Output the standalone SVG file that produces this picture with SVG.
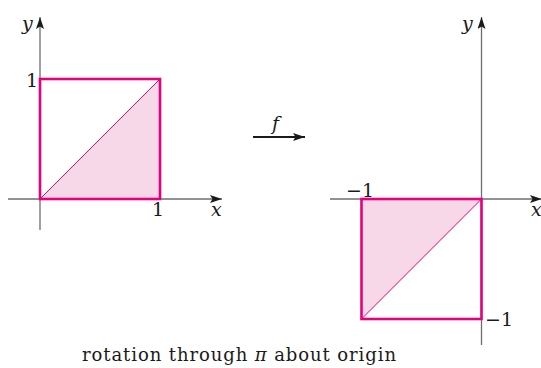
<svg xmlns="http://www.w3.org/2000/svg" width="541" height="368" viewBox="0 0 541 368">
<defs>
<style>
.axis{stroke:#6e6e6e;stroke-width:1.3;fill:none}
.sq{fill:none;stroke:#e6007e;stroke-width:2.6}
.diag{stroke:#e6007e;stroke-width:1}
.shade{fill:#f7d8e8;stroke:none}
text{font-family:"DejaVu Serif","Liberation Serif",serif;font-size:19px;fill:#1a1a1a}
.it{font-style:italic}
.cap{font-size:18px}
</style>
<marker id="ah" viewBox="0 0 12 8" refX="12" refY="4" markerWidth="12" markerHeight="8" markerUnits="userSpaceOnUse" orient="auto">
<path d="M0,0 L12,4 L0,8 L2.5,4 Z" fill="#1a1a1a"/>
</marker>
</defs>

<g id="left-plot">
<polygon class="shade" points="40,199 160,199 160,79"/>
<line class="diag" x1="40" y1="199" x2="160" y2="79"/>
<line class="axis" x1="8" y1="199" x2="222" y2="199" marker-end="url(#ah)"/>
<line class="axis" x1="40" y1="230" x2="40" y2="17" marker-end="url(#ah)"/>
<rect class="sq" x="40" y="79" width="120" height="120"/>
<text class="it" x="22" y="30">y</text>
<text class="it" x="211" y="216">x</text>
<text x="26" y="87">1</text>
<text x="152" y="216">1</text>
</g>

<g id="right-plot">
<polygon class="shade" points="361.5,199 481.5,199 361.5,319"/>
<line class="diag" x1="361.5" y1="319" x2="481.5" y2="199"/>
<line class="axis" x1="330" y1="199" x2="542" y2="199" marker-end="url(#ah)"/>
<line class="axis" x1="481.5" y1="345" x2="481.5" y2="17" marker-end="url(#ah)"/>
<rect class="sq" x="361.5" y="199" width="120" height="120"/>
<text class="it" x="462" y="30">y</text>
<text class="it" x="531" y="216">x</text>
<text x="346" y="197">−1</text>
<text x="485" y="326">−1</text>
</g>

<g id="connectors">
<line x1="253" y1="137" x2="305" y2="137" stroke="#1a1a1a" stroke-width="2" marker-end="url(#ah)"/>
<text class="it" x="272" y="130">f</text>
</g>

<text class="cap" x="82" y="361" textLength="314" lengthAdjust="spacing">rotation through <tspan class="it">π</tspan> about origin</text>
</svg>
